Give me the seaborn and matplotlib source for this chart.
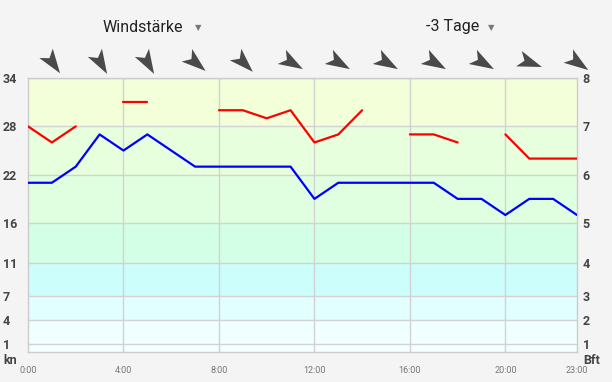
import numpy as np
import pandas as pd
import matplotlib
matplotlib.use("Agg")
import matplotlib.pyplot as plt
from matplotlib.path import Path
from matplotlib.markers import MarkerStyle
import matplotlib.transforms as mtransforms
import seaborn as sns

# --- data (knots, hourly) ---
hours = list(range(24))
hour_labels = ["0:00", "4:00", "8:00", "12:00", "16:00", "20:00", "23:00"]
hour_label_pos = [0, 4, 8, 12, 16, 20, 23]
wind_kn = [21, 21, 23, 27, 25, 27, 25, 23, 23, 23, 23, 23,
           19, 21, 21, 21, 21, 21, 19, 19, 17, 19, 19, 17]
gust_kn = [28, 26, 28, np.nan, 31, 31, np.nan, np.nan, 30, 30, 29, 30,
           26, 27, 30, np.nan, 27, 27, 26, np.nan, 27, 24, 24, 24]
# wind direction (deg, from) every 2 hours starting 1:00
dir_hours = [1, 3, 5, 7, 9, 11, 13, 15, 17, 19, 21, 23]
dir_deg = [325, 330, 330, 310, 315, 300, 300, 300, 300, 300, 290, 305]
# Beaufort band lower limits in knots
kn_ticks = [1, 4, 7, 11, 16, 22, 28, 34]
bft_ticks = ["1", "2", "3", "4", "5", "6", "7", "8"]
band_edges = [0, 1, 4, 7, 11, 16, 22, 28, 34]
band_colors = ["#f5ffff", "#f0ffff", "#e0fffe", "#ccfffc",
               "#d3ffe6", "#e0ffe0", "#e8ffdd", "#f2ffd8"]

sns.set_style("white")
plt.rcParams["font.family"] = ["Roboto", "DejaVu Sans"]

fig = plt.figure(figsize=(6.12, 3.82), dpi=100, facecolor="#f4f4f4")
ax = fig.add_axes([28 / 612, 30 / 382, 549 / 612, 274 / 382])

for lo, hi, c in zip(band_edges[:-1], band_edges[1:], band_colors):
    ax.axhspan(lo, hi, color=c, zorder=0, lw=0)

# gusts: split into segments so gaps stay open
gust = pd.DataFrame({"hour": hours, "kn": gust_kn})
gust["seg"] = gust["kn"].isna().cumsum()
gust = gust.dropna()
sns.lineplot(data=gust, x="hour", y="kn", units="seg", estimator=None,
             color="#ff0000", lw=1.6, ax=ax, zorder=3)
wind = pd.DataFrame({"hour": hours, "kn": wind_kn})
sns.lineplot(data=wind, x="hour", y="kn", color="#0000ff", lw=1.6, ax=ax, zorder=3)

ax.set_xlim(0, 23)
ax.set_ylim(0, 34)
ax.set_xlabel("")
ax.set_ylabel("")
ax.set_yticks(kn_ticks)
ax.set_yticklabels(kn_ticks)
ax.set_xticks(hour_label_pos)
ax.set_xticklabels(hour_labels)
ax.grid(False)
for y in kn_ticks:
    ax.axhline(y, color="#d2d2d2", lw=1, zorder=1)
for x in [4, 8, 12, 16, 20]:
    ax.axvline(x, color="#d2d2d2", lw=1, zorder=1)
for s in ax.spines.values():
    s.set_color("#cccccc")
    s.set_linewidth(1)

ax.tick_params(axis="y", length=0, pad=18, labelsize=9, labelcolor="#444444")
for t in ax.get_yticklabels():
    t.set_horizontalalignment("left")
    t.set_fontweight("bold")
ax.tick_params(axis="x", length=0, pad=10, labelsize=6.5, labelcolor="#777777")

ax2 = ax.twinx()
ax2.set_ylim(0, 34)
ax2.set_yticks(kn_ticks)
ax2.set_yticklabels(bft_ticks)
ax2.tick_params(axis="y", length=0, pad=4, labelsize=9, labelcolor="#444444")
for t in ax2.get_yticklabels():
    t.set_fontweight("bold")
for s in ax2.spines.values():
    s.set_visible(False)

fig.text(3 / 612, 1 - 361 / 382, "kn", fontsize=9, fontweight="bold",
         color="#444444", ha="left", va="center")
fig.text(583 / 612, 1 - 361 / 382, "Bft", fontsize=9, fontweight="bold",
         color="#444444", ha="left", va="center")

# dropdown headers
fig.text(143 / 612, 1 - 27 / 382, "Windstärke", fontsize=11.5, color="#222222",
         ha="center", va="center")
fig.text(198 / 612, 1 - 28 / 382, "▼", fontsize=6, color="#777777",
         ha="center", va="center", family="DejaVu Sans")
fig.text(453 / 612, 1 - 27 / 382, "-3 Tage", fontsize=11.5, color="#222222",
         ha="center", va="center")
fig.text(491 / 612, 1 - 28 / 382, "▼", fontsize=6, color="#777777",
         ha="center", va="center", family="DejaVu Sans")

# wind direction arrows above the plot
dart = Path([(1, 0), (-0.85, 0.62), (-0.4, 0), (-0.85, -0.62), (1, 0)],
            [Path.MOVETO, Path.LINETO, Path.LINETO, Path.LINETO, Path.CLOSEPOLY])
trans = mtransforms.blended_transform_factory(ax.transData, ax.transAxes)
for h, d in zip(dir_hours, dir_deg):
    angle = 90 - (d + 180)
    m = MarkerStyle(dart).rotated(deg=angle)
    ax.plot([h], [1.058], marker=m, markersize=19, color="#4a4a4a",
            markeredgewidth=0, transform=trans, clip_on=False)

fig.savefig("out.png", dpi=100, facecolor=fig.get_facecolor())
